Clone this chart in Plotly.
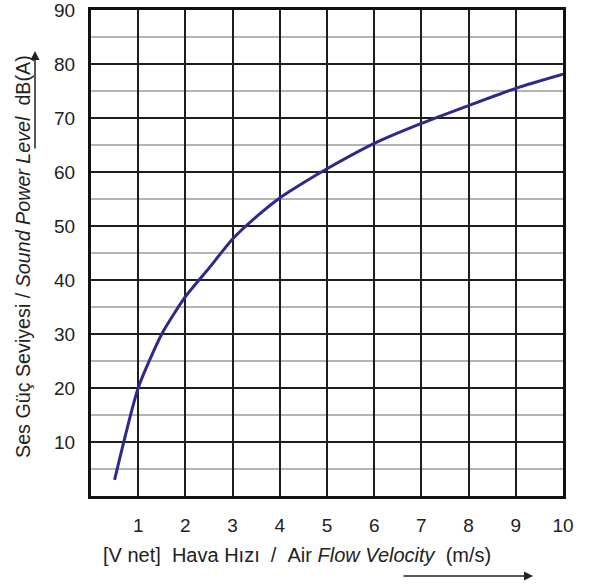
import plotly.graph_objects as go

# Data
velocity = [0.5, 1.0, 1.5, 2.0, 2.5, 3.0, 3.5, 4.0, 4.5, 5.0, 6.0, 7.0, 8.0, 9.0, 10.0]
sound_level = [3.0, 20.0, 30.0, 36.9, 42.2, 47.6, 51.7, 55.2, 58.0, 60.6, 65.3, 69.0, 72.3, 75.5, 78.1]

x_ticks = [1, 2, 3, 4, 5, 6, 7, 8, 9, 10]
y_ticks = [10, 20, 30, 40, 50, 60, 70, 80, 90]

NB = "\u00a0"
x_title = f"[V net]{NB}{NB}Hava Hızı{NB}{NB}/{NB}{NB}Air <i>Flow Velocity</i>{NB}{NB}(m/s)"
y_title = f"Ses Güç Seviyesi / <i>Sound Power Level</i>{NB}{NB}dB(A)"

FONT = "Liberation Sans, Arial, sans-serif"

# plot area target in window px: x 91..563, y 10..496 (page body margin removed)
W, H = 591, 585
L, R, T, B = 91, 591 - 563, 10, 585 - 496
PW, PH = W - L - R, H - T - B


def px(xw):
    return (xw - L) / PW


def py(yw):
    return (H - B - yw) / PH


fig = go.Figure()
fig.add_trace(go.Scatter(
    x=velocity, y=sound_level, mode="lines",
    line=dict(color="#2f2a8a", width=3, shape="spline", smoothing=0.6),
    hoverinfo="skip", showlegend=False,
))

fig.update_layout(
    width=W, height=H,
    margin=dict(l=L, r=R, t=T, b=B, pad=0),
    paper_bgcolor="white", plot_bgcolor="white",
    font=dict(family=FONT, size=18, color="#222222"),
    xaxis=dict(
        range=[0, 10], tickvals=x_ticks, ticktext=[str(v) for v in x_ticks],
        showgrid=True, gridcolor="#1e1e1e", gridwidth=2,
        showline=True, linecolor="#111111", linewidth=3, mirror=True,
        ticks="", ticklen=0, zeroline=False, automargin=False,
        ticklabelstandoff=10, ticklabeloverflow="allow",
        tickfont=dict(size=19, color="#222222"),
    ),
    yaxis=dict(
        range=[0, 90], tickvals=y_ticks, ticktext=[str(v) for v in y_ticks],
        showgrid=True, gridcolor="#1e1e1e", gridwidth=2,
        minor=dict(dtick=5, tick0=0, showgrid=True, gridcolor="#b4b4b4", gridwidth=2, ticks=""),
        showline=True, linecolor="#111111", linewidth=3, mirror=True,
        ticks="", ticklen=0, zeroline=False, automargin=False,
        ticklabelstandoff=9, ticklabeloverflow="allow",
        tickfont=dict(size=19, color="#222222"),
    ),
)

fig.add_annotation(
    text=x_title, xref="paper", yref="paper",
    x=px(296.5), y=py(555),
    xanchor="center", yanchor="middle", showarrow=False,
    font=dict(family=FONT, size=20, color="#222222"),
)
fig.add_annotation(
    text=y_title, xref="paper", yref="paper",
    x=px(23), y=py(257),
    xanchor="center", yanchor="middle", textangle=-90, showarrow=False,
    font=dict(family=FONT, size=19.7, color="#222222"),
)
# x-direction arrow
fig.add_annotation(
    text="", xref="paper", yref="paper",
    x=px(533), y=py(576),
    ax=-131, ay=0, showarrow=True,
    arrowhead=2, arrowsize=1.2, arrowwidth=1.5, arrowcolor="#222222",
)
# y-direction arrow
fig.add_annotation(
    text="", xref="paper", yref="paper",
    x=px(35), y=py(51),
    ax=0, ay=99, showarrow=True,
    arrowhead=2, arrowsize=1.2, arrowwidth=1.5, arrowcolor="#222222",
)

fig.write_html(
    "out.html",
    config={"displayModeBar": False},
    post_script="document.body.style.margin='0';document.body.style.overflow='hidden';",
)
